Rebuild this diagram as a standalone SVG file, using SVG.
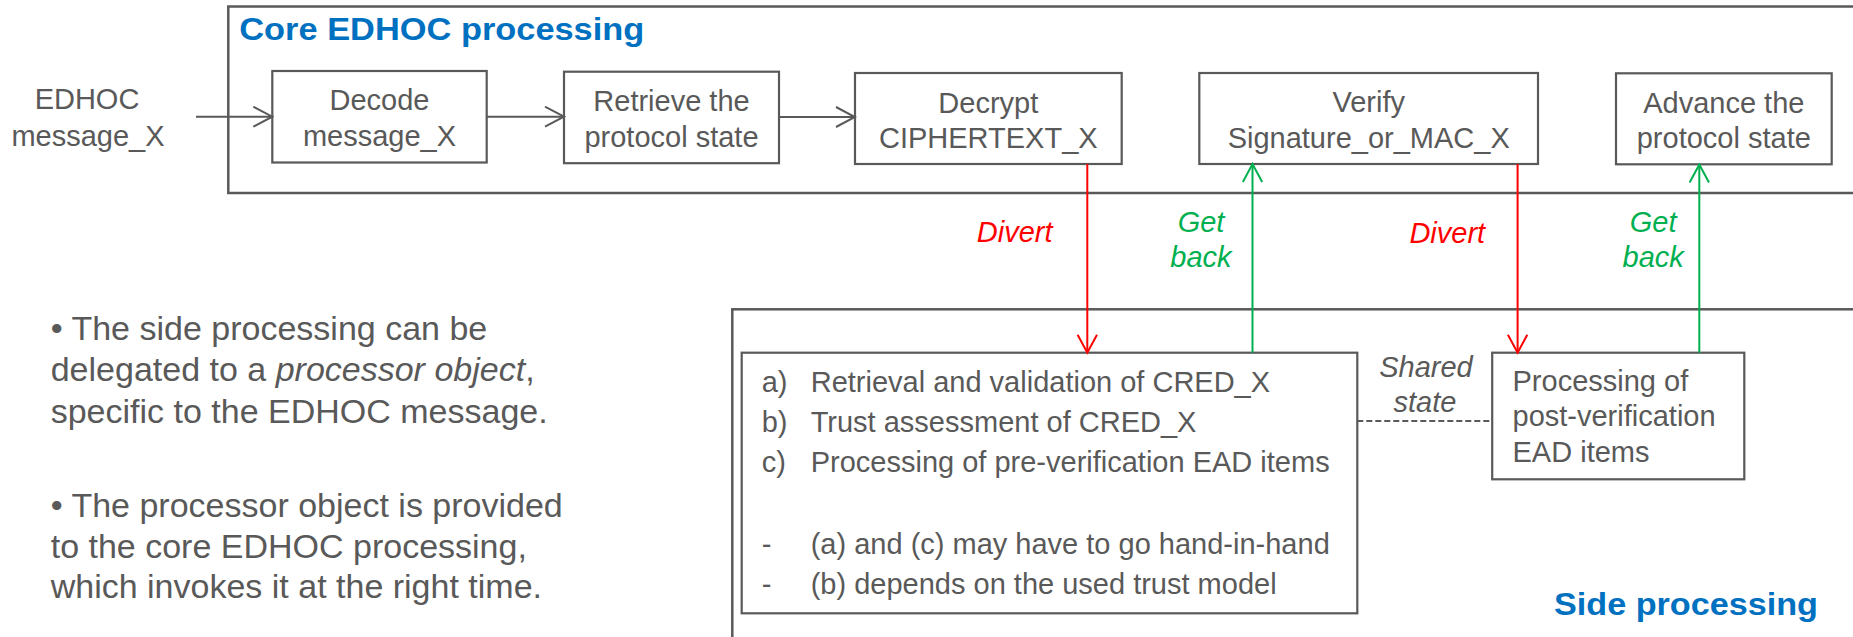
<svg xmlns="http://www.w3.org/2000/svg" width="1853" height="637" viewBox="0 0 1853 637">
  <style>
    text { font-family: "Liberation Sans", Arial, Helvetica, sans-serif; fill: #595959; }
    .t { font-size: 29px; }
    .mid { text-anchor: middle; }
    .note { font-size: 34px; }
    .title { font-size: 32px; font-weight: bold; fill: #0070C0; }
    .lbl { font-size: 29px; font-style: italic; }
    .red { fill: #FF0000; }
    .green { fill: #00B050; }
    .frame { fill: none; stroke: #595959; stroke-width: 2.5; }
    .box { fill: #FFFFFF; stroke: #595959; stroke-width: 2.2; }
    .conn { fill: none; stroke-width: 2; }
    .gray { stroke: #595959; }
    .r { stroke: #FF0000; }
    .g { stroke: #00B050; }
  </style>
  <defs>
    <marker id="ah-gray" viewBox="0 0 22 22" markerWidth="22" markerHeight="22" refX="20" refY="11" orient="auto" markerUnits="userSpaceOnUse">
      <path d="M1,1 L20,11 L1,21" fill="none" stroke="#595959" stroke-width="2"/>
    </marker>
    <marker id="ah-red" viewBox="0 0 22 22" markerWidth="22" markerHeight="22" refX="20" refY="11" orient="auto" markerUnits="userSpaceOnUse">
      <path d="M2,1.3 L20,11 L2,20.7" fill="none" stroke="#FF0000" stroke-width="2"/>
    </marker>
    <marker id="ah-green" viewBox="0 0 22 22" markerWidth="22" markerHeight="22" refX="20" refY="11" orient="auto" markerUnits="userSpaceOnUse">
      <path d="M2,1.3 L20,11 L2,20.7" fill="none" stroke="#00B050" stroke-width="2"/>
    </marker>
  </defs>

  <rect width="1853" height="637" fill="#FFFFFF"/>

  <!-- Frames -->
  <g id="core-frame">
    <rect class="frame" x="228.3" y="6.5" width="1700" height="186.5"/>
    <text class="title" x="239.3" y="40" textLength="405" lengthAdjust="spacingAndGlyphs">Core EDHOC processing</text>
  </g>
  <g id="side-frame">
    <rect class="frame" x="732.3" y="309.3" width="1200" height="400"/>
    <text class="title" x="1554" y="615" textLength="264" lengthAdjust="spacingAndGlyphs">Side processing</text>
  </g>

  <!-- Input label -->
  <g id="input">
    <text class="t mid" x="87" y="109.3">EDHOC</text>
    <text class="t mid" x="88" y="146">message_X</text>
  </g>

  <!-- Core nodes -->
  <g id="decode">
    <rect class="box" x="272.3" y="71" width="214.4" height="91.5"/>
    <text class="t mid" x="379.5" y="110">Decode</text>
    <text class="t mid" x="379.5" y="146">message_X</text>
  </g>
  <g id="retrieve">
    <rect class="box" x="564" y="71.7" width="215" height="91.5"/>
    <text class="t mid" x="671.5" y="110.5">Retrieve the</text>
    <text class="t mid" x="671.5" y="146.5">protocol state</text>
  </g>
  <g id="decrypt">
    <rect class="box" x="855" y="73" width="266.7" height="91"/>
    <text class="t mid" x="988.3" y="112.5">Decrypt</text>
    <text class="t mid" x="988.3" y="148">CIPHERTEXT_X</text>
  </g>
  <g id="verify">
    <rect class="box" x="1199.3" y="73" width="338.7" height="91"/>
    <text class="t mid" x="1368.7" y="112">Verify</text>
    <text class="t mid" x="1368.7" y="147.5">Signature_or_MAC_X</text>
  </g>
  <g id="advance">
    <rect class="box" x="1616" y="73.3" width="215.7" height="91"/>
    <text class="t mid" x="1723.8" y="112.7">Advance the</text>
    <text class="t mid" x="1723.8" y="148">protocol state</text>
  </g>

  <!-- Side nodes -->
  <g id="pre-verification">
    <rect class="box" x="741.7" y="352.7" width="615.6" height="260.6"/>
    <text class="t" x="761.7" y="391.7">a)</text>
    <text class="t" x="810.7" y="391.7">Retrieval and validation of CRED_X</text>
    <text class="t" x="761.7" y="431.7">b)</text>
    <text class="t" x="810.7" y="431.7">Trust assessment of CRED_X</text>
    <text class="t" x="761.7" y="471.7">c)</text>
    <text class="t" x="810.7" y="471.7">Processing of pre-verification EAD items</text>
    <text class="t" x="761.7" y="553.5">-</text>
    <text class="t" x="810.7" y="553.5">(a) and (c) may have to go hand-in-hand</text>
    <text class="t" x="761.7" y="594">-</text>
    <text class="t" x="810.7" y="594">(b) depends on the used trust model</text>
  </g>
  <g id="post-verification">
    <rect class="box" x="1492.2" y="352.7" width="252.1" height="126.6"/>
    <text class="t" x="1512.5" y="390.7">Processing of</text>
    <text class="t" x="1512.5" y="426.2">post-verification</text>
    <text class="t" x="1512.5" y="461.7">EAD items</text>
  </g>

  <!-- Notes -->
  <g id="notes">
    <text class="note" x="50.7" y="340">• The side processing can be</text>
    <text class="note" x="50.7" y="381">delegated to a <tspan font-style="italic">processor object</tspan>,</text>
    <text class="note" x="50.7" y="422.7">specific to the EDHOC message.</text>
    <text class="note" x="50.7" y="516.7">• The processor object is provided</text>
    <text class="note" x="50.7" y="557.7">to the core EDHOC processing,</text>
    <text class="note" x="50.7" y="597.7">which invokes it at the right time.</text>
  </g>

  <!-- Connectors -->
  <g id="connectors">
    <line class="conn gray" x1="196" y1="116.7" x2="272.3" y2="116.7" marker-end="url(#ah-gray)"/>
    <line class="conn gray" x1="486.7" y1="116.7" x2="564" y2="116.7" marker-end="url(#ah-gray)"/>
    <line class="conn gray" x1="779" y1="117" x2="855" y2="117" marker-end="url(#ah-gray)"/>
    <line class="conn r" x1="1087.3" y1="164" x2="1087.3" y2="352.7" marker-end="url(#ah-red)"/>
    <line class="conn g" x1="1252.5" y1="352.7" x2="1252.5" y2="164" marker-end="url(#ah-green)"/>
    <line class="conn r" x1="1517.6" y1="164" x2="1517.6" y2="352.7" marker-end="url(#ah-red)"/>
    <line class="conn g" x1="1699.3" y1="352.7" x2="1699.3" y2="164.5" marker-end="url(#ah-green)"/>
    <line class="conn gray" x1="1357.3" y1="421" x2="1492.2" y2="421" stroke-dasharray="6 3"/>
    <text class="lbl red mid" x="1014.7" y="242.3">Divert</text>
    <text class="lbl green mid" x="1201" y="231.7">Get</text>
    <text class="lbl green mid" x="1201" y="266.7">back</text>
    <text class="lbl red mid" x="1447.3" y="243">Divert</text>
    <text class="lbl green mid" x="1653.2" y="231.7">Get</text>
    <text class="lbl green mid" x="1653.2" y="266.7">back</text>
    <text class="lbl mid" x="1426" y="377.3">Shared</text>
    <text class="lbl mid" x="1425" y="411.7">state</text>
  </g>
</svg>
